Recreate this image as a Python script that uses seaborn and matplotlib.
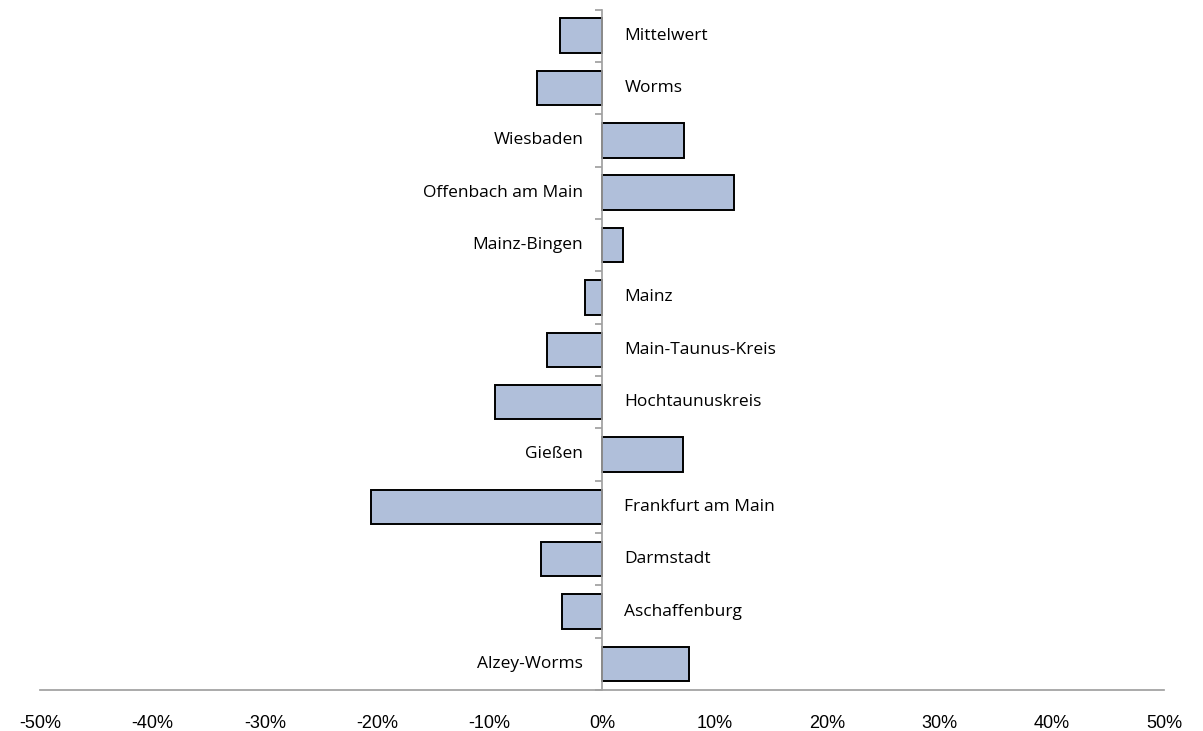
import pandas as pd
import matplotlib.pyplot as plt
import seaborn as sns
import numpy as np

# Kategorien von oben nach unten
regions = ['Mittelwert', 'Worms', 'Wiesbaden', 'Offenbach am Main', 'Mainz-Bingen',
           'Mainz', 'Main-Taunus-Kreis', 'Hochtaunuskreis', 'Gießen',
           'Frankfurt am Main', 'Darmstadt', 'Aschaffenburg', 'Alzey-Worms']
change_pct = [-3.7, -5.8, 7.3, 11.7, 1.9, -1.5, -4.9, -9.5, 7.2, -20.6, -5.4, -3.6, 7.7]
x_ticks = [-50, -40, -30, -20, -10, 0, 10, 20, 30, 40, 50]

df = pd.DataFrame({'region': regions, 'change': change_pct})

sns.set_theme(style="white")
plt.rcParams['font.family'] = ['Liberation Sans', 'DejaVu Sans']

fig = plt.figure(figsize=(12.03, 7.31), dpi=100)
ax = fig.add_axes([0.0333, 0.056, 0.9343, 0.931])

sns.barplot(data=df, x='change', y='region', order=regions, orient='h',
            color='#B0BFDA', saturation=1, edgecolor='black', linewidth=1.4,
            width=0.66, ax=ax)

# Beschriftungen auf der gegenüberliegenden Seite der Null
label_font = ['Open Sans', 'DejaVu Sans']
for i, (name, val) in enumerate(zip(regions, change_pct)):
    if val < 0:
        ax.annotate(name, (0, i), xytext=(16, 0), textcoords='offset points',
                    ha='left', va='center', fontsize=12.5, color='black', family=label_font)
    else:
        ax.annotate(name, (0, i), xytext=(-13.5, 0), textcoords='offset points',
                    ha='right', va='center', fontsize=12.5, color='black', family=label_font)

ax.set_xlim(-50, 50)
ax.set_ylim(len(regions) - 0.5, -0.5)
ax.set_xticks(x_ticks)
ax.set_xticklabels([f"{t}%" for t in x_ticks], fontsize=13, color='black')
ax.set_xlabel('')
ax.set_ylabel('')
ax.set_yticks(np.arange(-0.5, len(regions), 1.0))
ax.set_yticklabels([])

for s in ['top', 'right']:
    ax.spines[s].set_visible(False)
ax.spines['left'].set_position(('data', 0))
ax.spines['left'].set_color('#A0A0A0')
ax.spines['bottom'].set_color('#A0A0A0')
ax.tick_params(axis='x', direction='out', length=6, color='#A0A0A0', pad=12)
ax.tick_params(axis='y', direction='out', length=5, color='#A0A0A0', left=True)

fig.savefig('out.png', dpi=100)
